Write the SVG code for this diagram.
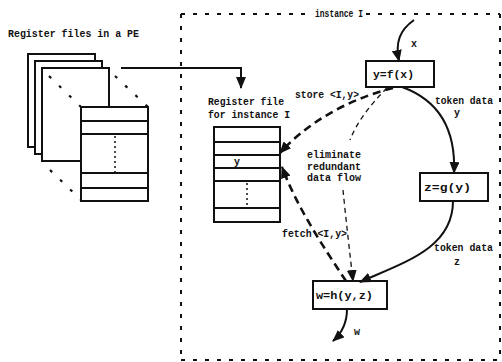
<svg xmlns="http://www.w3.org/2000/svg" width="502" height="362" viewBox="0 0 502 362">
<style>
text{font-family:"Liberation Mono","DejaVu Sans Mono",monospace;font-weight:bold;font-size:10px;fill:#111}
.box{fill:#fff;stroke:#111;stroke-width:2}
.row{stroke:#111;stroke-width:2}
.dot{stroke:#111;stroke-width:1.5;stroke-dasharray:2 3}
.frame{stroke:#111;stroke-width:2;stroke-dasharray:4 8;fill:none}
.solid{fill:none;stroke:#111;stroke-width:2}
.thick{fill:none;stroke:#111;stroke-width:2.6;stroke-dasharray:8 5}
.thin{fill:none;stroke:#111;stroke-width:1.3;stroke-dasharray:5 4}
.persp{stroke:#111;stroke-width:2.2;stroke-dasharray:3 11}
</style>
<defs>
<marker id="ah" markerUnits="userSpaceOnUse" markerWidth="12" markerHeight="10" refX="11" refY="5" orient="auto">
<path d="M0,0 L12,5 L0,10 Z" fill="#111"/>
</marker>
</defs>
<rect width="502" height="362" fill="#fff"/>

<g id="instance-frame">
<line class="frame" x1="181" y1="14" x2="181" y2="360"/>
<line class="frame" x1="181" y1="14" x2="312" y2="14"/>
<line class="frame" x1="366" y1="14" x2="500" y2="14"/>
<line class="frame" x1="500" y1="14" x2="500" y2="360"/>
<line class="frame" x1="181" y1="360" x2="500" y2="360"/>
<text x="315" y="17" textLength="48" lengthAdjust="spacingAndGlyphs">instance I</text>
</g>

<g id="pe-register-files">
<text x="8" y="37" textLength="131" lengthAdjust="spacingAndGlyphs">Register files in a PE</text>
<rect class="box" x="28" y="54" width="67" height="93"/>
<rect class="box" x="35" y="61" width="67" height="93"/>
<rect class="box" x="42" y="68" width="67" height="93"/>
<line class="persp" x1="49" y1="76" x2="81" y2="107"/>
<line class="persp" x1="115" y1="76" x2="148" y2="107"/>
<line class="persp" x1="50" y1="170" x2="81" y2="200"/>
<rect class="box" x="81" y="107" width="67" height="94"/>
<line class="row" x1="81" y1="121" x2="148" y2="121"/>
<line class="row" x1="81" y1="134" x2="148" y2="134"/>
<line class="row" x1="81" y1="173" x2="148" y2="173"/>
<line class="row" x1="81" y1="188" x2="148" y2="188"/>
<line class="dot" x1="115" y1="136" x2="115" y2="172"/>
</g>

<g id="instance-register-file">
<text x="208" y="105" textLength="76" lengthAdjust="spacingAndGlyphs">Register file</text>
<text x="208" y="118" textLength="82" lengthAdjust="spacingAndGlyphs">for instance I</text>
<rect class="box" x="214" y="127" width="66" height="95"/>
<line class="row" x1="214" y1="142" x2="280" y2="142"/>
<line class="row" x1="214" y1="155" x2="280" y2="155"/>
<line class="row" x1="214" y1="168" x2="280" y2="168"/>
<line class="row" x1="214" y1="181" x2="280" y2="181"/>
<line class="row" x1="214" y1="208" x2="280" y2="208"/>
<line class="dot" x1="247" y1="183" x2="247" y2="206"/>
<text x="234" y="165">y</text>
</g>

<g id="node-f">
<rect class="box" x="366" y="61" width="68" height="26"/>
<text x="373" y="78" textLength="41" lengthAdjust="spacingAndGlyphs">y=f(x)</text>
</g>

<g id="node-g">
<rect class="box" x="420" y="173" width="68" height="28"/>
<text x="424" y="191" textLength="47" lengthAdjust="spacingAndGlyphs">z=g(y)</text>
</g>

<g id="node-h">
<rect class="box" x="313" y="281" width="74" height="28"/>
<text x="316" y="299" textLength="57" lengthAdjust="spacingAndGlyphs">w=h(y,z)</text>
</g>

<g id="connectors">
<path class="solid" d="M121,68 L241,68 L241,88" stroke-width="1.5" marker-end="url(#ah)"/>
<path class="solid" d="M414,20 C400,30 395,42 399,61" marker-end="url(#ah)"/>
<path class="solid" d="M402,87 C438,100 456,128 454,173" marker-end="url(#ah)"/>
<path class="solid" d="M453,201 C453,248 405,262 360,282" marker-end="url(#ah)"/>
<path class="solid" d="M347,309 C347,322 342,333 333,341" marker-end="url(#ah)"/>
<path class="thick" d="M393,88 C345,100 305,125 280,153" marker-end="url(#ah)"/>
<path class="thick" d="M346,281 C322,245 296,205 282,167" marker-end="url(#ah)"/>
<path class="thin" d="M387,88 C370,105 357,122 350,140"/>
<path class="thin" d="M343,190 C346,220 350,255 353,281" marker-end="url(#ah)"/>
<text x="411" y="47">x</text>
<text x="295" y="98" textLength="64" lengthAdjust="spacingAndGlyphs">store &lt;I,y&gt;</text>
<text x="435" y="104" textLength="58" lengthAdjust="spacingAndGlyphs">token data</text>
<text x="454" y="116">y</text>
<text x="307" y="158" textLength="54" lengthAdjust="spacingAndGlyphs">eliminate</text>
<text x="307" y="170" textLength="54" lengthAdjust="spacingAndGlyphs">redundant</text>
<text x="307" y="181" textLength="54" lengthAdjust="spacingAndGlyphs">data flow</text>
<text x="282" y="237" textLength="65" lengthAdjust="spacingAndGlyphs">fetch &lt;I,y&gt;</text>
<text x="434" y="251" textLength="59" lengthAdjust="spacingAndGlyphs">token data</text>
<text x="454" y="265">z</text>
<text x="354" y="335">w</text>
</g>
</svg>
